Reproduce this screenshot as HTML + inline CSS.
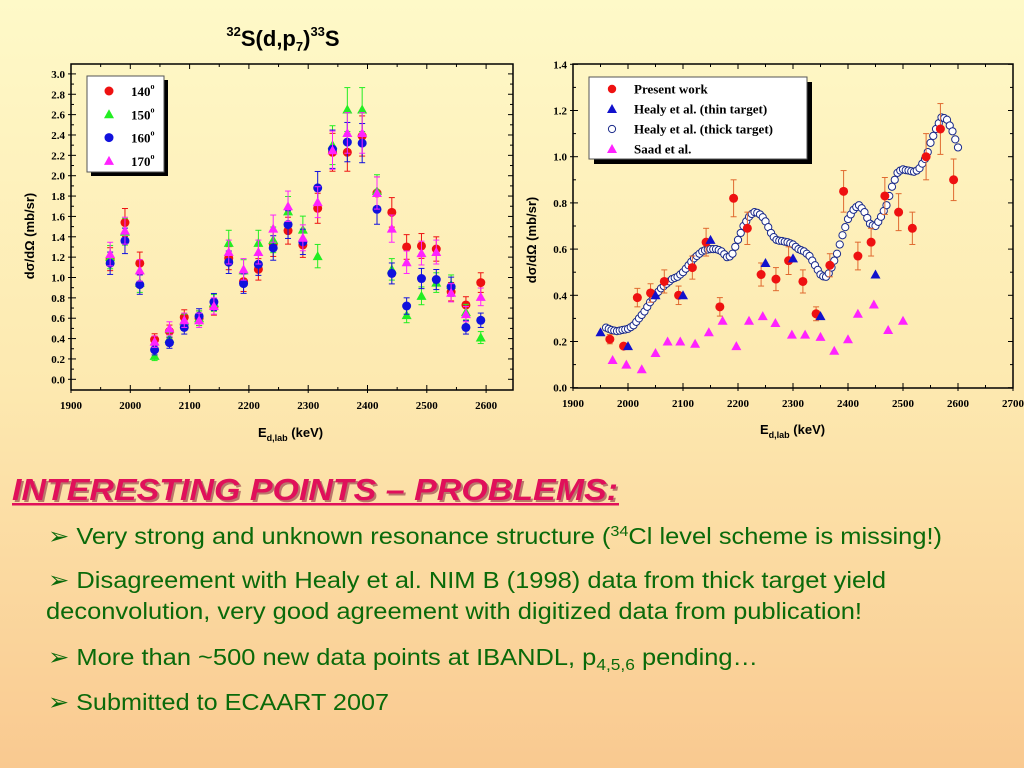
<!DOCTYPE html>
<html><head><meta charset="utf-8">
<style>
html,body{margin:0;padding:0;}
body{width:1024px;height:768px;overflow:hidden;background:linear-gradient(#fef9c8 0%,#fde9b0 50%,#f9c990 100%);}
svg{position:absolute;left:0;top:0;}
.tk{font-family:"Liberation Serif",serif;font-weight:bold;font-size:11px;fill:#000;}
.lg{font-family:"Liberation Serif",serif;font-weight:bold;font-size:13px;fill:#000;}
.ax{font-family:"Liberation Sans",sans-serif;font-weight:bold;font-size:13px;fill:#000;}
.bul{font-family:"Liberation Sans",sans-serif;font-size:23.5px;fill:#0a6a0a;}
</style></head>
<body>
<svg id="s" width="1024" height="768" xmlns="http://www.w3.org/2000/svg">
<text x="283" y="46" text-anchor="middle" font-family="Liberation Sans,sans-serif" font-weight="bold" font-size="22"><tspan font-size="13" dy="-10">32</tspan><tspan dy="10">S(d,p</tspan><tspan font-size="13" dy="5">7</tspan><tspan dy="-5">)</tspan><tspan font-size="13" dy="-10">33</tspan><tspan dy="10">S</tspan></text>
<g id="left"></g>
<g id="right"></g>
<g>
<text x="14" y="502" font-family="Liberation Sans,sans-serif" font-weight="bold" font-style="italic" font-size="31" fill="#7a1030" opacity="0.5" textLength="606" lengthAdjust="spacingAndGlyphs">INTERESTING POINTS – PROBLEMS:</text>
<text x="12" y="500" font-family="Liberation Sans,sans-serif" font-weight="bold" font-style="italic" font-size="31" fill="#e0105a" textLength="606" lengthAdjust="spacingAndGlyphs">INTERESTING POINTS – PROBLEMS:</text>
<rect x="12" y="503" width="607" height="2.5" fill="#e0105a"/>
<text class="bul" x="48" y="544" textLength="894" lengthAdjust="spacingAndGlyphs">➢ Very strong and unknown resonance structure (<tspan font-size="15" dy="-8">34</tspan><tspan dy="8">Cl level scheme is missing!)</tspan></text>
<text class="bul" x="48" y="588" textLength="838" lengthAdjust="spacingAndGlyphs">➢ Disagreement with Healy et al. NIM B (1998) data from thick target yield</text>
<text class="bul" x="46" y="619" textLength="816" lengthAdjust="spacingAndGlyphs">deconvolution, very good agreement with digitized data from publication!</text>
<text class="bul" x="48" y="665" textLength="710" lengthAdjust="spacingAndGlyphs">➢ More than ~500 new data points at IBANDL, p<tspan font-size="16" dy="5">4,5,6</tspan><tspan dy="-5"> pending…</tspan></text>
<text class="bul" x="48" y="710" textLength="341" lengthAdjust="spacingAndGlyphs">➢ Submitted to ECAART 2007</text>
</g>
</svg>
<script>
// ---- Left chart data ----
const leftEnergies=[1966,1991,2016,2041,2066,2091,2116,2141,2166,2191,2216,2241,2266,2291,2316,2341,2366,2391,2416,2441,2466,2491,2516,2541,2566,2591];
const a140=[1.18,1.54,1.14,0.39,0.47,0.61,0.60,0.71,1.19,0.96,1.08,1.33,1.46,1.32,1.68,2.23,2.23,2.39,1.83,1.64,1.30,1.31,1.28,0.86,0.73,0.95];
const a150=[1.20,1.45,0.95,0.23,0.40,0.57,0.60,0.75,1.34,1.07,1.34,1.37,1.65,1.47,1.21,2.30,2.65,2.65,1.85,1.08,0.63,0.82,0.95,0.93,0.66,0.41];
const a160=[1.14,1.36,0.93,0.29,0.36,0.51,0.62,0.76,1.15,0.94,1.13,1.29,1.52,1.35,1.88,2.26,2.33,2.32,1.67,1.04,0.72,0.99,0.98,0.91,0.51,0.58];
const a170=[1.23,1.46,1.07,0.37,0.50,0.58,0.58,0.72,1.25,1.08,1.25,1.48,1.70,1.39,1.74,2.25,2.42,2.42,1.83,1.48,1.15,1.24,1.25,0.85,0.64,0.81];
const leftXTicks=[1900,2000,2100,2200,2300,2400,2500,2600];
const leftYTicks=["0.0","0.2","0.4","0.6","0.8","1.0","1.2","1.4","1.6","1.8","2.0","2.2","2.4","2.6","2.8","3.0"];
// ---- Right chart data ----
const presentE=[1967,1992,2017,2041,2066,2092,2117,2142,2167,2192,2217,2242,2269,2292,2318,2342,2367,2392,2418,2442,2467,2492,2517,2542,2568,2592];
const presentV=[0.21,0.18,0.39,0.41,0.46,0.40,0.52,0.63,0.35,0.82,0.69,0.49,0.47,0.55,0.46,0.32,0.53,0.85,0.57,0.63,0.83,0.76,0.69,1.00,1.12,0.90];
const presentErr=[0.02,0.01,0.04,0.04,0.05,0.04,0.05,0.06,0.04,0.08,0.07,0.05,0.05,0.06,0.05,0.03,0.05,0.09,0.06,0.06,0.08,0.08,0.07,0.10,0.11,0.09];
const thinE=[1950,2000,2050,2100,2150,2250,2300,2350,2450];
const thinV=[0.24,0.18,0.40,0.40,0.64,0.54,0.56,0.31,0.49];
const thickE=[1960,1965,1970,1975,1980,1985,1990,1995,2000,2005,2010,2015,2020,2025,2030,2035,2040,2045,2050,2055,2060,2065,2070,2075,2080,2085,2090,2095,2100,2105,2110,2115,2120,2125,2130,2135,2140,2145,2150,2155,2160,2165,2170,2175,2180,2185,2190,2195,2200,2205,2210,2215,2220,2225,2230,2235,2240,2245,2250,2255,2260,2265,2270,2275,2280,2285,2290,2295,2300,2305,2310,2315,2320,2325,2330,2335,2340,2345,2350,2355,2360,2365,2370,2375,2380,2385,2390,2395,2400,2405,2410,2415,2420,2425,2430,2435,2440,2445,2450,2455,2460,2465,2470,2475,2480,2485,2490,2495,2500,2505,2510,2515,2520,2525,2530,2535,2540,2545,2550,2555,2560,2565,2570,2575,2580,2585,2590,2595,2600];
const thickV=[0.26,0.255,0.25,0.247,0.245,0.247,0.25,0.252,0.255,0.262,0.27,0.285,0.30,0.315,0.33,0.35,0.37,0.385,0.40,0.415,0.43,0.44,0.45,0.46,0.47,0.475,0.48,0.49,0.50,0.515,0.53,0.545,0.56,0.57,0.58,0.59,0.595,0.598,0.60,0.60,0.60,0.596,0.59,0.578,0.565,0.568,0.58,0.61,0.64,0.67,0.70,0.72,0.74,0.752,0.76,0.757,0.75,0.738,0.72,0.695,0.67,0.652,0.64,0.636,0.635,0.632,0.63,0.625,0.62,0.61,0.60,0.595,0.59,0.58,0.57,0.55,0.53,0.51,0.49,0.482,0.48,0.495,0.52,0.55,0.58,0.62,0.66,0.695,0.73,0.75,0.77,0.782,0.79,0.777,0.76,0.735,0.71,0.703,0.70,0.718,0.74,0.765,0.79,0.83,0.87,0.90,0.93,0.94,0.945,0.942,0.94,0.937,0.935,0.94,0.95,0.97,0.99,1.02,1.06,1.09,1.12,1.145,1.17,1.167,1.16,1.135,1.11,1.075,1.04];
const saadE=[1972,1997,2025,2050,2072,2095,2122,2147,2172,2197,2220,2245,2268,2298,2322,2350,2375,2400,2418,2447,2473,2500];
const saadV=[0.12,0.10,0.08,0.15,0.20,0.20,0.19,0.24,0.29,0.18,0.29,0.31,0.28,0.23,0.23,0.22,0.16,0.21,0.32,0.36,0.25,0.29];
const rightXTicks=[1900,2000,2100,2200,2300,2400,2500,2600,2700];
const rightYTicks=["0.0","0.2","0.4","0.6","0.8","1.0","1.2","1.4"];

const NS="http://www.w3.org/2000/svg";
function mk(parent,tag,attrs){const e=document.createElementNS(NS,tag);for(const k in attrs)e.setAttribute(k,attrs[k]);parent.appendChild(e);return e;}
function circle(g,x,y,r,fill,stroke){return mk(g,'circle',{cx:x,cy:y,r:r,fill:fill,stroke:stroke||'none','stroke-width':1});}
function tri(g,x,y,s,fill){return mk(g,'polygon',{points:`${x},${y-s} ${x-s},${y+s*0.8} ${x+s},${y+s*0.8}`,fill:fill});}

function axes(g,L,R,T,B,xs,ys,xTicks,xMinor,yTicks,yMinor){
  mk(g,'rect',{x:L,y:T,width:R-L,height:B-T,fill:'none',stroke:'#000','stroke-width':1.5});
  xTicks.forEach(v=>{const x=xs(v);
    mk(g,'line',{x1:x,y1:B,x2:x,y2:B-5,stroke:'#000'});mk(g,'line',{x1:x,y1:T,x2:x,y2:T+5,stroke:'#000'});
    mk(g,'line',{x1:x,y1:B,x2:x,y2:B+3,stroke:'#000'});
    const t=mk(g,'text',{x:x,y:B+19,'text-anchor':'middle',class:'tk'});t.textContent=v;
    
    
  });
  xMinor.forEach(v=>{const x=xs(v);mk(g,'line',{x1:x,y1:B,x2:x,y2:B-3,stroke:'#000'});mk(g,'line',{x1:x,y1:T,x2:x,y2:T+3,stroke:'#000'});});
  yTicks.forEach(s=>{const y=ys(parseFloat(s));
    mk(g,'line',{x1:L,y1:y,x2:L+5,y2:y,stroke:'#000'});mk(g,'line',{x1:R,y1:y,x2:R-5,y2:y,stroke:'#000'});
    mk(g,'line',{x1:L,y1:y,x2:L-3,y2:y,stroke:'#000'});
    const t=mk(g,'text',{x:L-6,y:y+4,'text-anchor':'end',class:'tk'});t.textContent=s;
    
    
  });
  yMinor.forEach(v=>{const y=ys(v);mk(g,'line',{x1:L,y1:y,x2:L+3,y2:y,stroke:'#000'});mk(g,'line',{x1:R,y1:y,x2:R-3,y2:y,stroke:'#000'});});
}
function errbar(g,x,y1,y2,c){mk(g,'line',{x1:x,y1:y1,x2:x,y2:y2,stroke:c,'stroke-width':1});
  mk(g,'line',{x1:x-3,y1:y1,x2:x+3,y2:y1,stroke:c});mk(g,'line',{x1:x-3,y1:y2,x2:x+3,y2:y2,stroke:c});}

// LEFT
(function(){
  const g=document.getElementById('left');
  const L=71,R=513,T=64,B=390;
  const xs=v=>71+(v-1900)*0.593, ys=v=>379.3-v*101.8;
  const minX=[1950,2050,2150,2250,2350,2450,2550,2650].filter(v=>xs(v)<R);
  const minY=[];for(let i=1;i<30;i+=2)minY.push(i/10);
  axes(g,L,R,T,B,xs,ys,leftXTicks,minX,leftYTicks,minY);
  const series=[[a140,'#ee1111','c'],[a150,'#22ee22','t'],[a160,'#1111dd','c'],[a170,'#ff22ff','t']];
  series.forEach(([arr,col,shape])=>{
    arr.forEach((v,i)=>{const x=xs(leftEnergies[i]),e=0.07*v+0.03;
      errbar(g,x,ys(v+e),ys(v-e),col);
      const m=shape==='c'?circle(g,x,ys(v),4.5,col):tri(g,x,ys(v),5,col);
      
      
    });
  });
  const lg=mk(g,'g',{});
  
  
  mk(lg,'rect',{x:91,y:80,width:77,height:96,fill:'#000'});
  mk(lg,'rect',{x:87,y:76,width:77,height:96,fill:'#fff',stroke:'#555'});
  const lab=['140','150','160','170'],cols=['#ee1111','#22ee22','#1111dd','#ff22ff'];
  lab.forEach((s,i)=>{const y=91+i*23.3;
    if(i%2===0)circle(lg,109,y,4.5,cols[i]);else tri(lg,109,y,5,cols[i]);
    const t=mk(lg,'text',{x:131,y:y+5,class:'lg'});t.innerHTML=s+'<tspan font-size="8" dy="-7">o</tspan>';
    
    
  });
  const yl=mk(g,'text',{x:0,y:0,class:'ax',transform:'translate(34,236) rotate(-90)','text-anchor':'middle','font-family':'Liberation Serif,serif'});
  yl.textContent='dσ/dΩ (mb/sr)';
  
  
  const xl=mk(g,'text',{x:258,y:437,class:'ax'});xl.innerHTML='E<tspan font-size="9" dy="4">d,lab</tspan><tspan dy="-4"> (keV)</tspan>';
  
  
})();

// RIGHT
(function(){
  const g=document.getElementById('right');
  const L=573,R=1013,T=64,B=388;
  const xs=v=>573+(v-1900)*0.55, ys=v=>387.7-v*231;
  const minX=[1950,2050,2150,2250,2350,2450,2550,2650];
  const minY=[];for(let i=1;i<14;i+=2)minY.push(i/10);
  axes(g,L,R,T,B,xs,ys,rightXTicks,minX,rightYTicks,minY);
  thickE.forEach((e,i)=>{const m=circle(g,xs(e),ys(thickV[i]),3.6,'#fff','#1a2a8a');
    
    });
  presentE.forEach((e,i)=>{const x=xs(e),v=presentV[i],er=presentErr[i];
    errbar(g,x,ys(v+er),ys(v-er),'#e06a30');
    const m=circle(g,x,ys(v),4.5,'#ee1111');
    
    });
  thinE.forEach((e,i)=>{const m=tri(g,xs(e),ys(thinV[i]),5,'#1111cc');
    
    });
  saadE.forEach((e,i)=>{const m=tri(g,xs(e),ys(saadV[i]),5,'#ff22ff');
    
    });
  const lg=mk(g,'g',{});
  
  
  mk(lg,'rect',{x:594,y:82,width:218,height:82,fill:'#000'});
  mk(lg,'rect',{x:589,y:77,width:218,height:82,fill:'#fff',stroke:'#555'});
  const labs=['Present work','Healy et al. (thin target)','Healy et al. (thick target)','Saad et al.'];
  labs.forEach((s,i)=>{const y=89+i*20;
    if(i===0)circle(lg,612,y,4.2,'#ee1111');
    else if(i===1)tri(lg,612,y,5,'#1111cc');
    else if(i===2)circle(lg,612,y,3.6,'#fff','#1a2a8a');
    else tri(lg,612,y,5,'#ff22ff');
    const t=mk(lg,'text',{x:634,y:y+4.5,class:'lg'});t.textContent=s;
    
    
  });
  const yl=mk(g,'text',{x:0,y:0,class:'ax',transform:'translate(536,240) rotate(-90)','text-anchor':'middle','font-family':'Liberation Serif,serif'});
  yl.textContent='dσ/dΩ (mb/sr)';
  
  
  const xl=mk(g,'text',{x:760,y:434,class:'ax'});xl.innerHTML='E<tspan font-size="9" dy="4">d,lab</tspan><tspan dy="-4"> (keV)</tspan>';
  
  
})();
</script>
</body></html>
